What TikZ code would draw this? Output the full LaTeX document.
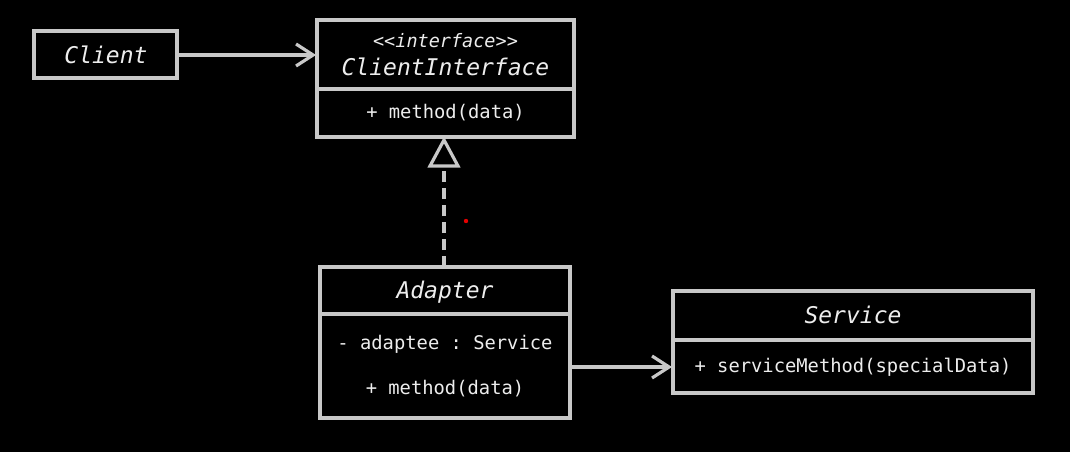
\documentclass[tikz,border=0pt]{standalone}
\usepackage{fontspec}
\setmonofont{DejaVu Sans Mono}
\usetikzlibrary{arrows.meta}
\definecolor{ln}{HTML}{C8C8C8}
\definecolor{tx}{HTML}{EDEDED}
\tikzset{
  box/.style={draw=ln, line width=3.2pt, fill=black},
  sep/.style={draw=ln, line width=3.2pt},
  title/.style={text=tx, font=\ttfamily\itshape\fontsize{23}{26}\selectfont, inner sep=0pt},
  stereo/.style={text=tx, font=\ttfamily\itshape\fontsize{18.5}{21}\selectfont, inner sep=0pt},
  member/.style={text=tx, font=\ttfamily\fontsize{18.8}{21}\selectfont, inner sep=0pt},
  assoc/.style={draw=ln, line width=3.2pt, -{Straight Barb[length=17pt,width=22pt,line width=3.2pt]}},
  realize/.style={draw=ln, line width=3.2pt, dash pattern=on 11pt off 6pt},
  tri/.style={draw=ln, line width=3.2pt, fill=black, line join=miter},
}
\begin{document}
\begin{tikzpicture}[x=1pt,y=-1pt]
\fill[black] (0,0) rectangle (1070,452);
\useasboundingbox (0,0) rectangle (1070,452);
% Client
\draw[box] (34,31) rectangle (177,78);
\node[title] (client) at (106,55) {Client};
\coordinate (clientE) at (177,55);
% ClientInterface
\draw[box] (317,20) rectangle (574,137);
\draw[sep] (317,89) -- (574,89);
\node[stereo] (stereo) at (445.5,41) {<<interface>>};
\node[title] (ci) at (445.5,67) {ClientInterface};
\node[member] (cim) at (445.5,113) {+ method(data)};
\coordinate (ciW) at (316,55);
\coordinate (ciS) at (444,140);
% Adapter
\draw[box] (320,267) rectangle (570,418);
\draw[sep] (320,314) -- (570,314);
\node[title] (adapter) at (445,292) {Adapter};
\node[member] (adaptee) at (445,344) {- adaptee : Service};
\node[member] (am) at (445,389) {+ method(data)};
\coordinate (adN) at (444,267);
\coordinate (adE) at (570,367);
% Service
\draw[box] (673,291) rectangle (1033,393);
\draw[sep] (673,340) -- (1033,340);
\node[title] (service) at (853,315) {Service};
\node[member] (sm) at (853,367) {+ serviceMethod(specialData)};
\coordinate (svW) at (672,367);
% connectors
\draw[assoc] (clientE) -- (ciW);
\draw[assoc] (adE) -- (svW);
\coordinate (triB) at (444,166);
\draw[realize] (adN) -- (triB);
\draw[tri] (ciS) -- (458,166) -- (430,166) -- cycle;
% red pointer dot
\fill[red!90!black] (466,221) circle (2.2);
\end{tikzpicture}
\end{document}
